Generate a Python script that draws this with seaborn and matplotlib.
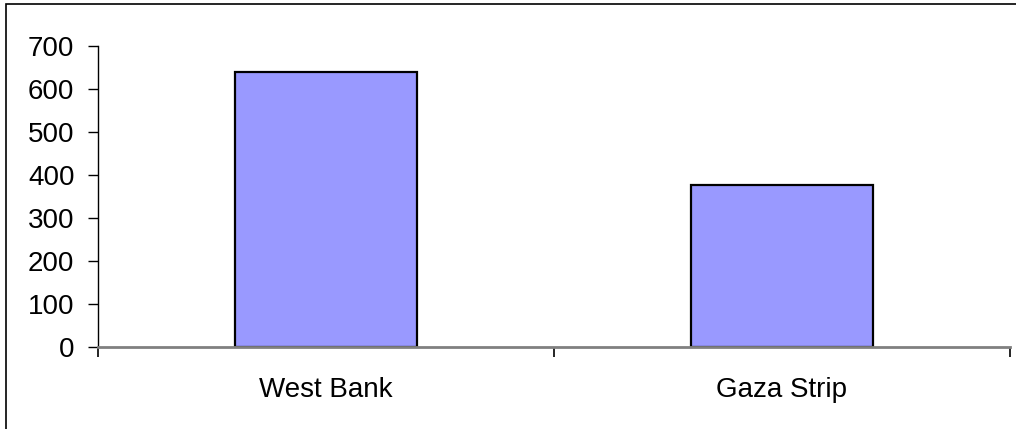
import matplotlib
matplotlib.use("Agg")
import matplotlib.pyplot as plt
from matplotlib.patches import Rectangle
import seaborn as sns
import pandas as pd

regions = ["West Bank", "Gaza Strip"]
values = [640, 377]
y_ticks = [0, 100, 200, 300, 400, 500, 600, 700]

sns.set_style("white")
plt.rcParams["font.family"] = ["Liberation Sans", "DejaVu Sans"]

W, H, DPI = 1016, 429, 100
fig = plt.figure(figsize=(W / DPI, H / DPI), dpi=DPI)
ax = fig.add_axes([98 / W, 1 - 346.7 / H, (1010 - 98) / W, (346.7 - 45.7) / H])

df = pd.DataFrame({"region": regions, "value": values})
sns.barplot(data=df, x="region", y="value", ax=ax, width=0.40,
            color="#9999FF", saturation=1, edgecolor="black", linewidth=1.6)

ax.set_xlim(-0.5, len(regions) - 0.5)
ax.set_ylim(0, 700)
ax.set_yticks(y_ticks)
ax.set_yticklabels([str(v) for v in y_ticks])
ax.set_xlabel("")
ax.set_ylabel("")

# category boundary ticks on the x axis, labels centered without marks
ax.set_xticks([i - 0.5 for i in range(len(regions) + 1)], minor=True)
ax.tick_params(axis="x", which="major", length=0, pad=22, labelsize=20,
               labelcolor="black", bottom=True)
ax.tick_params(axis="x", which="minor", length=7, width=1.2, color="black",
               direction="out", bottom=True)
ax.tick_params(axis="y", which="major", length=7, width=1, color="black",
               direction="out", pad=10, labelsize=20, labelcolor="black", left=True)

for side in ["top", "right"]:
    ax.spines[side].set_visible(False)
ax.spines["left"].set_color("black")
ax.spines["left"].set_linewidth(1.0)
ax.spines["bottom"].set_color("#808080")
ax.spines["bottom"].set_linewidth(2.0)
ax.set_facecolor("white")

# frame around the chart area
fig.patches.append(Rectangle((6 / W, -0.05), 1.2, 1 - 4 / H + 0.05,
                             transform=fig.transFigure, fill=False,
                             edgecolor="black", linewidth=1.2))

fig.savefig("out.png", dpi=DPI, facecolor="white")
